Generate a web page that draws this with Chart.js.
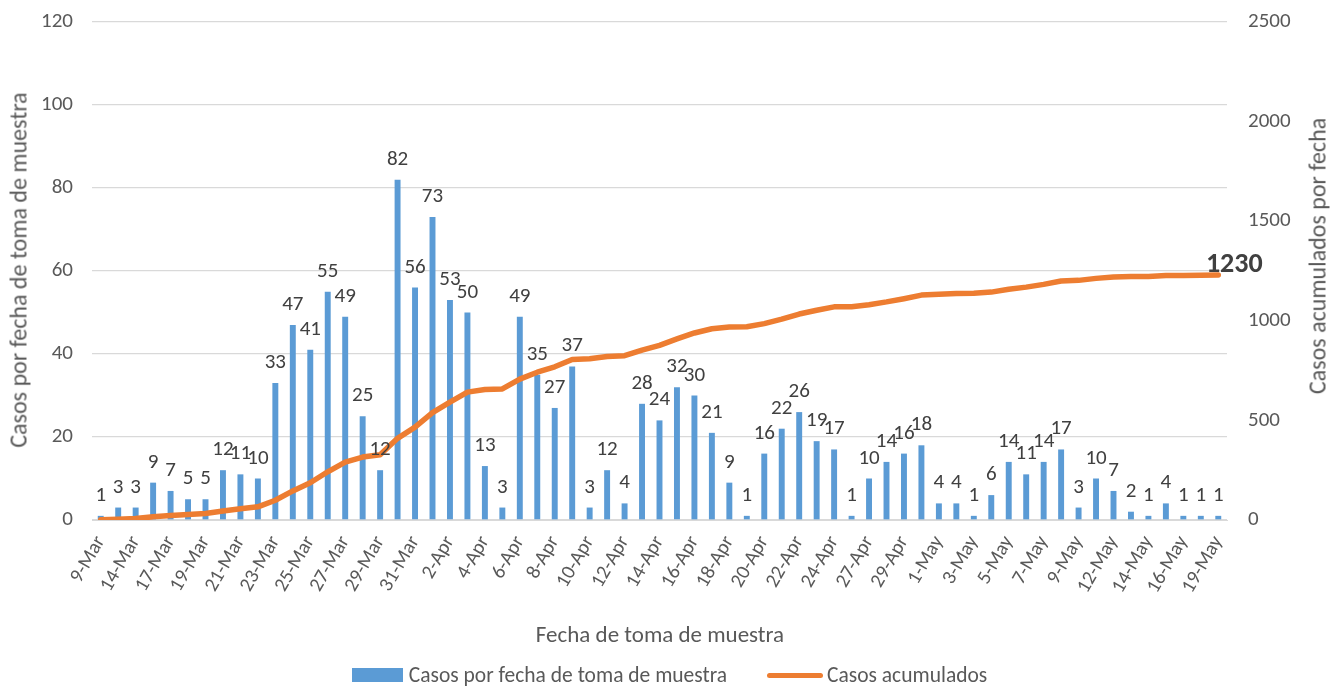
<!DOCTYPE html>
<html>
<head>
<meta charset="utf-8">
<title>Casos por fecha de toma de muestra</title>
<script src="https://cdn.jsdelivr.net/npm/chart.js@4.4.1/dist/chart.umd.min.js"></script>
<style>
    body { margin: 0; background: #fff; }
    #wrap { position: relative; width: 1339px; height: 687px; font-family: Carlito, Lato, sans-serif; color: #595959; }
    #grafico { position: absolute; left: 0; top: 0; }
    .titulo-eje { position: absolute; white-space: nowrap; font-size: 23px; transform: translate(-50%, -50%); }
    .vertical { transform: translate(-50%, -50%) rotate(-90deg); }
    #leyenda { position: absolute; left: 0; width: 1339px; top: 662px; display: flex; justify-content: center; align-items: center; font-size: 21.5px; }
    .caja { display: inline-block; width: 51px; height: 14px; background: #5B9BD5; margin-right: 6px; }
    .linea { display: inline-block; width: 56px; height: 5px; border-radius: 3px; background: #ED7D31; margin-left: 40px; margin-right: 4px; }
</style>
</head>
<body>
<div id="wrap">
    <canvas id="grafico" width="1339" height="687"></canvas>
    <div class="titulo-eje vertical" style="left:18px; top:270px; font-size:24px;">Casos por fecha de toma de muestra</div>
    <div class="titulo-eje vertical" style="left:1317px; top:256px; font-size:24px;">Casos acumulados por fecha</div>
    <div class="titulo-eje" style="left:660px; top:634px;">Fecha de toma de muestra</div>
    <div id="leyenda">
        <span class="caja"></span><span>Casos por fecha de toma de muestra</span>
        <span class="linea"></span><span>Casos acumulados</span>
    </div>
</div>
<script>
// fechas de toma de muestra (solo se rotula una de cada dos)
const fechas = [
    "9-Mar", "12-Mar", "14-Mar", "16-Mar", "17-Mar", "18-Mar", "19-Mar", "20-Mar", "21-Mar", "22-Mar",
    "23-Mar", "24-Mar", "25-Mar", "26-Mar", "27-Mar", "28-Mar", "29-Mar", "30-Mar", "31-Mar", "1-Apr",
    "2-Apr", "3-Apr", "4-Apr", "5-Apr", "6-Apr", "7-Apr", "8-Apr", "9-Apr", "10-Apr", "11-Apr",
    "12-Apr", "13-Apr", "14-Apr", "15-Apr", "16-Apr", "17-Apr", "18-Apr", "19-Apr", "20-Apr", "21-Apr",
    "22-Apr", "23-Apr", "24-Apr", "26-Apr", "27-Apr", "28-Apr", "29-Apr", "30-Apr", "1-May", "2-May",
    "3-May", "4-May", "5-May", "6-May", "7-May", "8-May", "9-May", "11-May", "12-May", "13-May",
    "14-May", "15-May", "16-May", "18-May", "19-May"
];

const casosPorFecha = [
    1, 3, 3, 9, 7, 5, 5, 12, 11, 10,
    33, 47, 41, 55, 49, 25, 12, 82, 56, 73,
    53, 50, 13, 3, 49, 35, 27, 37, 3, 12,
    4, 28, 24, 32, 30, 21, 9, 1, 16, 22,
    26, 19, 17, 1, 10, 14, 16, 18, 4, 4,
    1, 6, 14, 11, 14, 17, 3, 10, 7, 2,
    1, 4, 1, 1, 1
];

const casosAcumulados = [
    1, 4, 7, 16, 23, 28, 33, 45, 56, 66,
    99, 146, 187, 242, 291, 316, 328, 410, 466, 539,
    592, 642, 655, 658, 707, 742, 769, 806, 809, 821,
    825, 853, 877, 909, 939, 960, 969, 970, 986, 1008,
    1034, 1053, 1070, 1071, 1081, 1095, 1111, 1129, 1133, 1137,
    1138, 1144, 1158, 1169, 1183, 1200, 1203, 1213, 1220, 1222,
    1223, 1227, 1228, 1229, 1230
];

const ticksIzquierda = [0, 20, 40, 60, 80, 100, 120];
const ticksDerecha = [0, 500, 1000, 1500, 2000, 2500];

const fuente = "Carlito, Lato, sans-serif";

// etiquetas de valor sobre las barras y el total al final de la linea
const etiquetasDatos = {
    id: "etiquetasDatos",
    afterDatasetsDraw(chart) {
        const ctx = chart.ctx;
        ctx.save();
        ctx.fillStyle = "#404040";
        ctx.font = "21px " + fuente;
        ctx.textAlign = "center";
        ctx.textBaseline = "alphabetic";
        chart.getDatasetMeta(0).data.forEach((bar, i) => {
            ctx.fillText(casosPorFecha[i], bar.x, bar.y - 15);
        });
        const puntos = chart.getDatasetMeta(1).data;
        const ultimo = puntos[puntos.length - 1];
        ctx.font = "bold 28px " + fuente;
        ctx.fillText(casosAcumulados[casosAcumulados.length - 1], ultimo.x + 16, ultimo.y - 3);
        ctx.restore();
    }
};

// sin margen extra arriba/abajo en los ejes verticales
function sinRelleno(s) {
    s.paddingTop = 0;
    s.paddingBottom = 0;
}

new Chart(document.getElementById("grafico"), {
    type: "bar",
    data: {
        labels: fechas,
        datasets: [
            {
                type: "bar",
                label: "Casos por fecha de toma de muestra",
                data: casosPorFecha,
                backgroundColor: "#5B9BD5",
                barPercentage: 0.34,
                categoryPercentage: 1,
                yAxisID: "y",
                order: 1
            },
            {
                type: "line",
                label: "Casos acumulados",
                data: casosAcumulados,
                borderColor: "#ED7D31",
                borderWidth: 5.5,
                borderCapStyle: "round",
                borderJoinStyle: "round",
                pointRadius: 0,
                tension: 0,
                yAxisID: "y1",
                order: 0
            }
        ]
    },
    options: {
        responsive: false,
        animation: false,
        devicePixelRatio: 1,
        layout: { padding: { top: 22, left: 0, right: 0, bottom: 0 } },
        plugins: {
            legend: { display: false },
            tooltip: { enabled: false }
        },
        scales: {
            x: {
                grid: { display: false },
                border: { color: "#D9D9D9", width: 1 },
                ticks: {
                    autoSkip: false,
                    minRotation: 60,
                    maxRotation: 60,
                    padding: 4,
                    color: "#595959",
                    font: { family: fuente, size: 20 },
                    callback: function (value, index) {
                        return index % 2 === 0 ? fechas[index] : "";
                    }
                },
                afterFit: s => { s.height = 167; }
            },
            y: {
                position: "left",
                min: 0,
                max: 120,
                afterBuildTicks: s => { s.ticks = ticksIzquierda.map(v => ({ value: v })); },
                grid: { color: "#D9D9D9", lineWidth: 1.3, drawTicks: false },
                border: { display: false },
                ticks: { padding: 19, color: "#595959", font: { family: fuente, size: 21 } },
                afterFit: s => { s.width = 92; sinRelleno(s); }
            },
            y1: {
                position: "right",
                min: 0,
                max: 2500,
                afterBuildTicks: s => { s.ticks = ticksDerecha.map(v => ({ value: v })); },
                grid: { display: false, drawTicks: false },
                border: { display: false },
                ticks: {
                    padding: 21,
                    color: "#595959",
                    font: { family: fuente, size: 21 },
                    callback: v => String(v)
                },
                afterFit: s => { s.width = 112; sinRelleno(s); }
            }
        }
    },
    plugins: [etiquetasDatos]
});
</script>
</body>
</html>
